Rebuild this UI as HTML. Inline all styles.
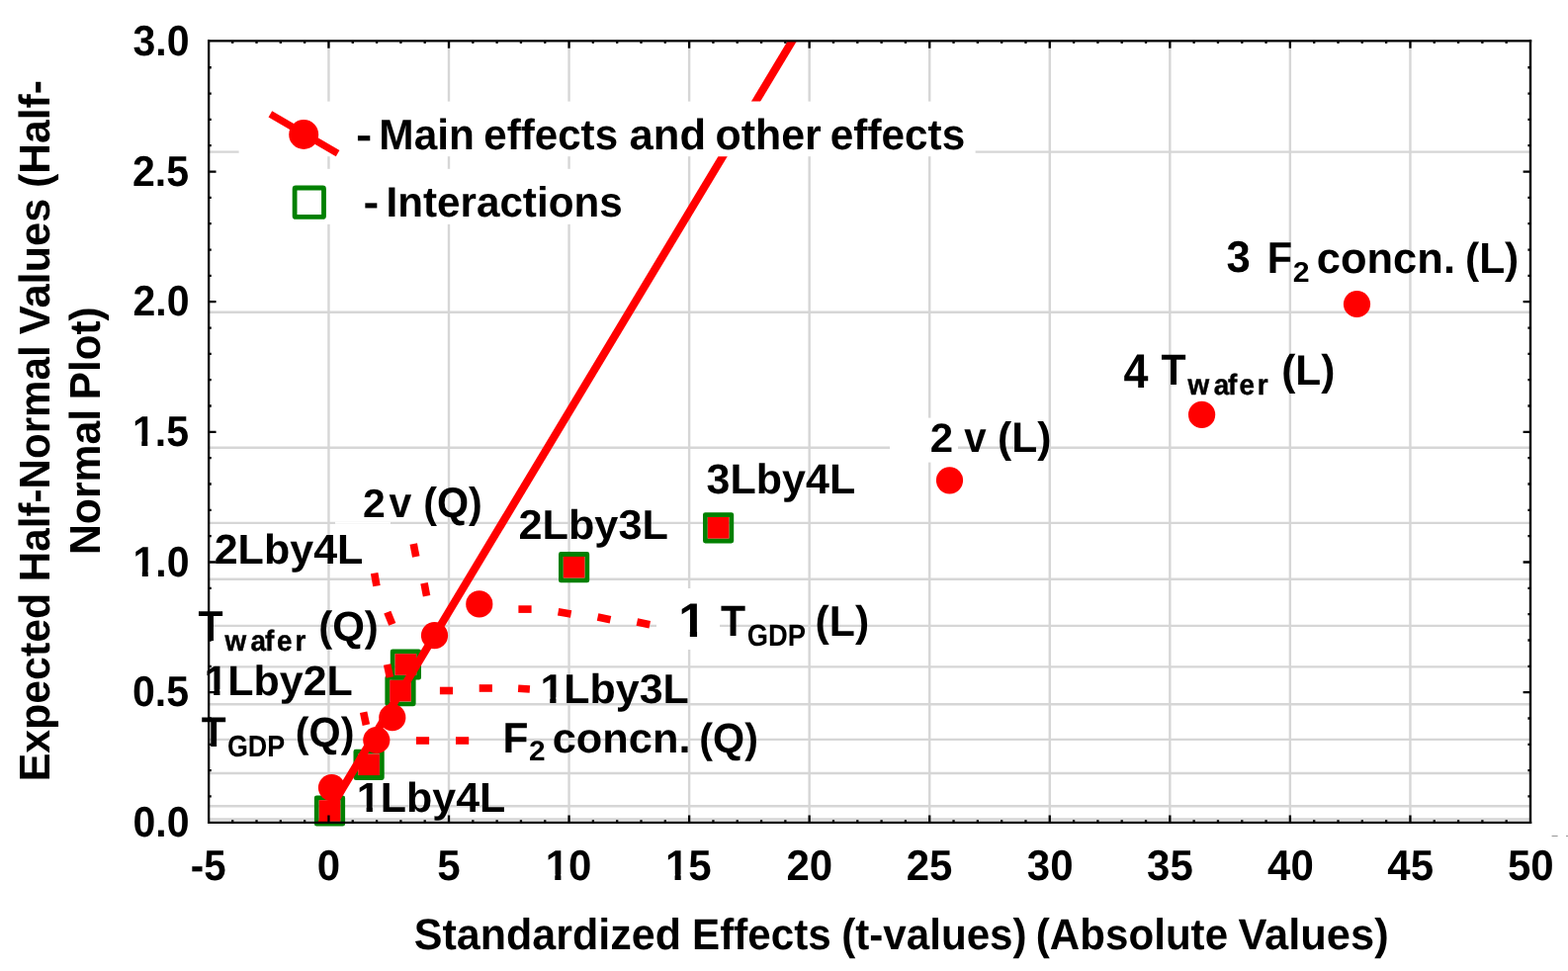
<!DOCTYPE html>
<html lang="en"><head><meta charset="utf-8"><title>Half-Normal Plot</title>
<style>html,body{margin:0;padding:0;background:#fff}body{width:1586px;height:982px;overflow:hidden}svg{display:block}</style></head>
<body>
<svg width="1586" height="982" viewBox="0 0 1586 982">
<rect width="1586" height="982" fill="#fff"/>
<g stroke="#d6d6d6" stroke-width="2.4" fill="none">
<line x1="332.45" y1="41.9" x2="332.45" y2="831.8"/>
<line x1="454.01" y1="41.9" x2="454.01" y2="831.8"/>
<line x1="575.56" y1="41.9" x2="575.56" y2="831.8"/>
<line x1="697.12" y1="41.9" x2="697.12" y2="831.8"/>
<line x1="818.67" y1="41.9" x2="818.67" y2="831.8"/>
<line x1="940.23" y1="41.9" x2="940.23" y2="831.8"/>
<line x1="1061.78" y1="41.9" x2="1061.78" y2="831.8"/>
<line x1="1183.34" y1="41.9" x2="1183.34" y2="831.8"/>
<line x1="1304.89" y1="41.9" x2="1304.89" y2="831.8"/>
<line x1="1426.45" y1="41.9" x2="1426.45" y2="831.8"/>
<line x1="210.9" y1="828.50" x2="1548.0" y2="828.50"/>
<line x1="210.9" y1="815.29" x2="1548.0" y2="815.29"/>
<line x1="210.9" y1="782.01" x2="1548.0" y2="782.01"/>
<line x1="210.9" y1="747.90" x2="1548.0" y2="747.90"/>
<line x1="210.9" y1="712.32" x2="1548.0" y2="712.32"/>
<line x1="210.9" y1="674.41" x2="1548.0" y2="674.41"/>
<line x1="210.9" y1="632.90" x2="1548.0" y2="632.90"/>
<line x1="210.9" y1="585.72" x2="1548.0" y2="585.72"/>
<line x1="210.9" y1="528.91" x2="1548.0" y2="528.91"/>
<line x1="210.9" y1="452.77" x2="1548.0" y2="452.77"/>
<line x1="210.9" y1="315.74" x2="1548.0" y2="315.74"/>
<line x1="210.9" y1="153.58" x2="1548.0" y2="153.58"/>
</g>
<g fill="#fff">
<rect x="241.6" y="102.6" width="745" height="55.6"/>
<rect x="290" y="170.8" width="350" height="56"/>
<rect x="900" y="422.6" width="69" height="45"/>
<rect x="664" y="595" width="64" height="62"/>
<rect x="339" y="527.6" width="56" height="2.2"/>
</g>
<g fill="none" stroke="#008000" stroke-width="4.8" stroke-linejoin="round">
<rect x="320.30" y="806.80" width="26.4" height="26.4"/>
<rect x="359.90" y="760.10" width="26.4" height="26.4"/>
<rect x="391.80" y="685.40" width="26.4" height="26.4"/>
<rect x="397.20" y="658.80" width="26.4" height="26.4"/>
<rect x="567.40" y="560.50" width="26.4" height="26.4"/>
<rect x="713.40" y="520.60" width="26.4" height="26.4"/>
</g>
<g fill="#ff0000">
<rect x="322.70" y="809.20" width="21.6" height="21.6"/>
<rect x="362.30" y="762.50" width="21.6" height="21.6"/>
<rect x="394.20" y="687.80" width="21.6" height="21.6"/>
<rect x="399.60" y="661.20" width="21.6" height="21.6"/>
<rect x="569.80" y="562.90" width="21.6" height="21.6"/>
<rect x="715.80" y="523.00" width="21.6" height="21.6"/>
</g>
<defs><clipPath id="cl"><rect x="211" y="41.4" width="1337" height="61.2"/><rect x="211" y="158.2" width="1337" height="673.6"/></clipPath></defs>
<g stroke="#ff0000" stroke-width="8.0" clip-path="url(#cl)">
<line x1="323.95" y1="834.8" x2="802.83" y2="38.9"/>
</g>
<g fill="#ff0000">
<circle cx="335.50" cy="796.60" r="13.6"/>
<circle cx="380.80" cy="748.50" r="13.6"/>
<circle cx="396.80" cy="725.70" r="13.6"/>
<circle cx="439.50" cy="642.70" r="13.6"/>
<circle cx="484.80" cy="610.90" r="13.6"/>
<circle cx="960.50" cy="485.80" r="13.6"/>
<circle cx="1215.60" cy="419.40" r="13.6"/>
<circle cx="1372.50" cy="307.50" r="13.6"/>
</g>
<g fill="#ff0000">
<rect x="-6.6" y="-3.8" width="13.2" height="7.6" transform="translate(419.5 556.5) rotate(79)"/>
<rect x="-6.6" y="-3.8" width="13.2" height="7.6" transform="translate(430.3 596.3) rotate(79)"/>
<rect x="-6.6" y="-3.8" width="13.2" height="7.6" transform="translate(379.8 586.2) rotate(80)"/>
<rect x="-6.6" y="-3.8" width="13.2" height="7.6" transform="translate(394.3 625.3) rotate(68)"/>
<rect x="-6.6" y="-3.8" width="13.2" height="7.6" transform="translate(393.0 678.5) rotate(78)"/>
<rect x="-6.6" y="-3.8" width="13.2" height="7.6" transform="translate(369.0 726.7) rotate(78)"/>
<rect x="-6.6" y="-3.8" width="13.2" height="7.6" transform="translate(451.5 698.5) rotate(0)"/>
<rect x="-6.6" y="-3.8" width="13.2" height="7.6" transform="translate(491.3 696.0) rotate(0)"/>
<rect x="-5.9" y="-3.8" width="11.8" height="7.6" transform="translate(530.0 696.6) rotate(4)"/>
<rect x="-6.6" y="-3.8" width="13.2" height="7.6" transform="translate(427.5 749.0) rotate(0)"/>
<rect x="-6.6" y="-3.8" width="13.2" height="7.6" transform="translate(467.6 749.0) rotate(0)"/>
<rect x="-6.6" y="-3.8" width="13.2" height="7.6" transform="translate(531.0 616.1) rotate(0)"/>
<rect x="-6.6" y="-3.8" width="13.2" height="7.6" transform="translate(571.1 619.9) rotate(10)"/>
<rect x="-6.6" y="-3.8" width="13.2" height="7.6" transform="translate(611.0 625.4) rotate(12)"/>
<rect x="-6.6" y="-3.8" width="13.2" height="7.6" transform="translate(650.8 630.4) rotate(12)"/>
</g>
<line x1="273.4" y1="115.4" x2="341.6" y2="155.2" stroke="#ff0000" stroke-width="7.2"/>
<circle cx="307.2" cy="136" r="15" fill="#ff0000"/>
<rect x="298.1" y="190.0" width="29.4" height="29.4" rx="1" fill="none" stroke="#008000" stroke-width="4.8" stroke-linejoin="round"/>
<g stroke="#000" fill="none">
<line x1="211.15" y1="40.3" x2="211.15" y2="832.9" stroke-width="2.3"/>
<line x1="1548" y1="40.3" x2="1548" y2="832.9" stroke-width="2.4"/>
<line x1="210" y1="41.4" x2="1549.2" y2="41.4" stroke-width="2.3"/>
<line x1="210" y1="831.8" x2="1549.2" y2="831.8" stroke-width="2.3"/>
</g>
<g stroke="#8a8a8a" stroke-width="0.9" fill="none"><line x1="1569.6" y1="845.5" x2="1575.6" y2="845.5"/><line x1="1584" y1="845.5" x2="1586" y2="845.5"/></g>
<g stroke="#000" fill="none">
<path d="M235.21 831.8v-2.6M235.21 41.4v2.6M259.52 831.8v-2.6M259.52 41.4v2.6M283.83 831.8v-2.6M283.83 41.4v2.6M308.14 831.8v-2.6M308.14 41.4v2.6M332.45 831.8v-7.4M332.45 41.4v7.4M356.77 831.8v-2.6M356.77 41.4v2.6M381.08 831.8v-2.6M381.08 41.4v2.6M405.39 831.8v-2.6M405.39 41.4v2.6M429.70 831.8v-2.6M429.70 41.4v2.6M454.01 831.8v-7.4M454.01 41.4v7.4M478.32 831.8v-2.6M478.32 41.4v2.6M502.63 831.8v-2.6M502.63 41.4v2.6M526.94 831.8v-2.6M526.94 41.4v2.6M551.25 831.8v-2.6M551.25 41.4v2.6M575.56 831.8v-7.4M575.56 41.4v7.4M599.87 831.8v-2.6M599.87 41.4v2.6M624.19 831.8v-2.6M624.19 41.4v2.6M648.50 831.8v-2.6M648.50 41.4v2.6M672.81 831.8v-2.6M672.81 41.4v2.6M697.12 831.8v-7.4M697.12 41.4v7.4M721.43 831.8v-2.6M721.43 41.4v2.6M745.74 831.8v-2.6M745.74 41.4v2.6M770.05 831.8v-2.6M770.05 41.4v2.6M794.36 831.8v-2.6M794.36 41.4v2.6M818.67 831.8v-7.4M818.67 41.4v7.4M842.98 831.8v-2.6M842.98 41.4v2.6M867.29 831.8v-2.6M867.29 41.4v2.6M891.61 831.8v-2.6M891.61 41.4v2.6M915.92 831.8v-2.6M915.92 41.4v2.6M940.23 831.8v-7.4M940.23 41.4v7.4M964.54 831.8v-2.6M964.54 41.4v2.6M988.85 831.8v-2.6M988.85 41.4v2.6M1013.16 831.8v-2.6M1013.16 41.4v2.6M1037.47 831.8v-2.6M1037.47 41.4v2.6M1061.78 831.8v-7.4M1061.78 41.4v7.4M1086.09 831.8v-2.6M1086.09 41.4v2.6M1110.40 831.8v-2.6M1110.40 41.4v2.6M1134.71 831.8v-2.6M1134.71 41.4v2.6M1159.03 831.8v-2.6M1159.03 41.4v2.6M1183.34 831.8v-7.4M1183.34 41.4v7.4M1207.65 831.8v-2.6M1207.65 41.4v2.6M1231.96 831.8v-2.6M1231.96 41.4v2.6M1256.27 831.8v-2.6M1256.27 41.4v2.6M1280.58 831.8v-2.6M1280.58 41.4v2.6M1304.89 831.8v-7.4M1304.89 41.4v7.4M1329.20 831.8v-2.6M1329.20 41.4v2.6M1353.51 831.8v-2.6M1353.51 41.4v2.6M1377.82 831.8v-2.6M1377.82 41.4v2.6M1402.13 831.8v-2.6M1402.13 41.4v2.6M1426.45 831.8v-7.4M1426.45 41.4v7.4M1450.76 831.8v-2.6M1450.76 41.4v2.6M1475.07 831.8v-2.6M1475.07 41.4v2.6M1499.38 831.8v-2.6M1499.38 41.4v2.6M1523.69 831.8v-2.6M1523.69 41.4v2.6M211.15 805.47h2.6M1548 805.47h-2.6M211.15 779.14h2.6M1548 779.14h-2.6M211.15 752.81h2.6M1548 752.81h-2.6M211.15 726.48h2.6M1548 726.48h-2.6M211.15 700.15h7.4M1548 700.15h-7.4M211.15 673.82h2.6M1548 673.82h-2.6M211.15 647.49h2.6M1548 647.49h-2.6M211.15 621.16h2.6M1548 621.16h-2.6M211.15 594.83h2.6M1548 594.83h-2.6M211.15 568.50h7.4M1548 568.50h-7.4M211.15 542.17h2.6M1548 542.17h-2.6M211.15 515.84h2.6M1548 515.84h-2.6M211.15 489.51h2.6M1548 489.51h-2.6M211.15 463.18h2.6M1548 463.18h-2.6M211.15 436.85h7.4M1548 436.85h-7.4M211.15 410.52h2.6M1548 410.52h-2.6M211.15 384.19h2.6M1548 384.19h-2.6M211.15 357.86h2.6M1548 357.86h-2.6M211.15 331.53h2.6M1548 331.53h-2.6M211.15 305.20h7.4M1548 305.20h-7.4M211.15 278.87h2.6M1548 278.87h-2.6M211.15 252.54h2.6M1548 252.54h-2.6M211.15 226.21h2.6M1548 226.21h-2.6M211.15 199.88h2.6M1548 199.88h-2.6M211.15 173.55h7.4M1548 173.55h-7.4M211.15 147.22h2.6M1548 147.22h-2.6M211.15 120.89h2.6M1548 120.89h-2.6M211.15 94.56h2.6M1548 94.56h-2.6M211.15 68.23h2.6M1548 68.23h-2.6" stroke-width="2.3"/>
</g>
<g font-family="'Liberation Sans',sans-serif" font-weight="bold" fill="#000" text-rendering="geometricPrecision">
<g><text transform="matrix(1.1619 0 0 1.0340 360.07 151.40)" font-size="42">- </text><text transform="matrix(1.0094 0 0 1.0340 383.32 151.40)" font-size="42">Main </text><text transform="matrix(1.0023 0 0 1.0340 489.35 151.40)" font-size="42">effects </text><text transform="matrix(1.0383 0 0 1.0340 636.50 151.40)" font-size="42">and </text><text transform="matrix(1.0215 0 0 1.0340 723.51 151.40)" font-size="42">other </text><text transform="matrix(1.0068 0 0 1.0340 839.84 151.40)" font-size="42">effects</text></g>
<g><text transform="matrix(1.1238 0 0 1.0204 367.43 219.00)" font-size="42">- </text><text transform="matrix(1.0051 0 0 1.0204 390.44 219.00)" font-size="42">Interactions</text></g>
<g><text transform="matrix(0.9689 0 0 0.9938 1240.43 275.10)" font-size="45">3 </text><text transform="matrix(0.9882 0 0 1.0609 1281.78 275.50)" font-size="42">F</text><text transform="matrix(1.0815 0 0 1.0256 1307.72 284.50)" font-size="28">2 </text><text transform="matrix(1.0356 0 0 1.0374 1331.79 275.50)" font-size="42">concn. </text><text transform="matrix(1.0121 0 0 1.0374 1481.98 275.50)" font-size="42">(L)</text></g>
<g><text transform="matrix(0.9755 0 0 1.0603 1136.57 391.80)" font-size="46">4 </text><text transform="matrix(0.9778 0 0 1.0470 1174.51 389.00)" font-size="42">T</text><text transform="matrix(0.96 0 0 1.01 0 398.6)" x="1251.67 1278.83 1293.88 1305.83 1324.77" y="0" font-size="29" stroke="#000" stroke-width="0.45">wafer </text><text transform="matrix(1.0101 0 0 1.0238 1296.18 389.00)" font-size="42">(L)</text></g>
<g><text transform="matrix(1.0494 0 0 1.0250 940.73 457.10)" font-size="40">2 </text><text transform="matrix(0.9582 0 0 1.0204 975.36 457.10)" font-size="42">v </text><text transform="matrix(1.0141 0 0 1.0204 1009.07 457.10)" font-size="42">(L)</text></g>
<g><text transform="matrix(1.0245 0 0 1.0102 714.58 499.30)" font-size="42">3Lby4L</text></g>
<g><text transform="matrix(1.0295 0 0 0.9966 524.46 544.70)" font-size="42">2Lby3L</text></g>
<g><text transform="matrix(1.0234 0 0 1.0107 367.06 522.50)" font-size="40">2 </text><text transform="matrix(0.9758 0 0 1.0204 393.56 522.50)" font-size="42">v </text><text transform="matrix(0.9823 0 0 1.0204 428.14 522.50)" font-size="42">(Q)</text></g>
<g><text transform="matrix(1.0253 0 0 1.0034 216.66 569.50)" font-size="42">2Lby4L</text></g>
<g><text transform="matrix(0.9778 0 0 1.0330 200.61 647.90)" font-size="42">T</text><text transform="matrix(0.96 0 0 1.01 0 657.8)" x="236.98 264.15 279.29 291.67 310.92" y="0" font-size="29" stroke="#000" stroke-width="0.45">wafer </text><text transform="matrix(1.0000 0 0 1.0102 322.20 647.90)" font-size="42">(Q)</text></g>
<g><text transform="matrix(1.0231 0 0 1.0102 206.39 703.00)" font-size="42" clip-path="url(#c1_42)">1Lby2L</text></g>
<g><text transform="matrix(0.9697 0 0 1.0191 203.72 754.60)" font-size="42">T</text><text transform="matrix(0.9624 0 0 1.0886 229.90 765.03)" font-size="28">GDP </text><text transform="matrix(0.9841 0 0 1.0034 298.73 754.60)" font-size="42">(Q)</text></g>
<g><text transform="matrix(1.0238 0 0 1.0034 360.78 820.50)" font-size="42" clip-path="url(#c1_42)">1Lby4L</text></g>
<g><text transform="matrix(1.0231 0 0 0.9932 546.39 711.10)" font-size="42" clip-path="url(#c1_42)">1Lby3L</text></g>
<g><text transform="matrix(1.0118 0 0 1.0261 508.52 760.80)" font-size="42">F</text><text transform="matrix(1.0667 0 0 1.0103 534.93 769.20)" font-size="28">2 </text><text transform="matrix(1.0325 0 0 1.0034 558.69 760.80)" font-size="42">concn. </text><text transform="matrix(0.9823 0 0 1.0034 707.34 760.80)" font-size="42">(Q)</text></g>
<g><text transform="matrix(1.0700 0 0 1.0337 686.29 644.2)" font-size="47" clip-path="url(#c1_47)">1 </text><text transform="matrix(0.9778 0 0 1.0470 729.11 643.20)" font-size="42">T</text><text transform="matrix(0.9761 0 0 1.0987 755.78 653.03)" font-size="28">GDP </text><text transform="matrix(1.0182 0 0 1.0306 824.56 643.10)" font-size="42">(L)</text></g>
<g><text transform="matrix(1.0011 0 0 1.0233 418.75 959.60)" font-size="43">Standardized </text><text transform="matrix(0.9805 0 0 1.0233 700.06 959.60)" font-size="43">Effects </text><text transform="matrix(0.9805 0 0 1.0233 851.19 959.60)" font-size="43">(t-values) </text><text transform="matrix(0.9799 0 0 1.0233 1047.80 959.60)" font-size="43">(Absolute </text><text transform="matrix(1.0111 0 0 1.0233 1252.45 959.60)" font-size="43">Values)</text></g>
<g><text transform="matrix(0 -0.9960 1.0133 0 50.10 790.29)" font-size="43">Expected </text><text transform="matrix(0 -0.9800 1.0133 0 50.10 588.14)" font-size="43">Half-Normal </text><text transform="matrix(0 -1.0093 1.0133 0 50.10 338.15)" font-size="43">Values </text><text transform="matrix(0 -0.9896 1.0133 0 50.10 189.83)" font-size="43">(Half-</text></g>
<g><text transform="matrix(0 -0.9944 1.0133 0 101.10 561.08)" font-size="43">Normal </text><text transform="matrix(0 -0.9795 1.0133 0 101.10 404.14)" font-size="43">Plot)</text></g>
<g>
<text transform="matrix(0.978 0 0 1.03 134.40 56.00)" font-size="42">3.0</text>
<text transform="matrix(0.978 0 0 1.03 133.91 187.65)" font-size="42">2.5</text>
<text transform="matrix(0.978 0 0 1.03 134.40 319.30)" font-size="42">2.0</text>
<text transform="matrix(0.978 0 0 1.03 133.91 450.95)" font-size="42" clip-path="url(#c1_42)">1.5</text>
<text transform="matrix(0.978 0 0 1.03 134.40 582.60)" font-size="42" clip-path="url(#c1_42)">1.0</text>
<text transform="matrix(0.978 0 0 1.03 133.91 714.25)" font-size="42">0.5</text>
<text transform="matrix(0.978 0 0 1.03 134.40 845.90)" font-size="42">0.0</text>
</g>
<g>
<text transform="matrix(0.96 0 0 1.03 192.82 890.0)" font-size="42">-5</text>
<text transform="matrix(1.0 0 0 1.03 320.70 890.0)" font-size="42">0</text>
<text transform="matrix(1.0 0 0 1.03 442.26 890.0)" font-size="42">5</text>
<text transform="matrix(1.0 0 0 1.03 551.69 890.0)" font-size="42" clip-path="url(#c1_42)">10</text>
<text transform="matrix(1.0 0 0 1.03 672.99 890.0)" font-size="42" clip-path="url(#c1_42)">15</text>
<text transform="matrix(1.0 0 0 1.03 795.42 890.0)" font-size="42">20</text>
<text transform="matrix(1.0 0 0 1.03 916.73 890.0)" font-size="42">25</text>
<text transform="matrix(1.0 0 0 1.03 1038.78 890.0)" font-size="42">30</text>
<text transform="matrix(1.0 0 0 1.03 1160.09 890.0)" font-size="42">35</text>
<text transform="matrix(1.0 0 0 1.03 1282.02 890.0)" font-size="42">40</text>
<text transform="matrix(1.0 0 0 1.03 1403.32 890.0)" font-size="42">45</text>
<text transform="matrix(1.0 0 0 1.03 1524.88 890.0)" font-size="42">50</text>
</g>
</g>
<defs><clipPath id="c1_42"><rect x="-20" y="-84" width="3000" height="78.09"/><rect x="9.62" y="-6.90" width="6.08" height="12.60"/><rect x="23.65" y="-6.90" width="3000" height="42"/></clipPath><clipPath id="c1_47"><rect x="-20" y="-94" width="3000" height="87.58"/><rect x="10.78" y="-7.42" width="6.76" height="14.10"/><rect x="26.29" y="-7.42" width="3000" height="47"/></clipPath></defs>
</svg>
</body></html>
